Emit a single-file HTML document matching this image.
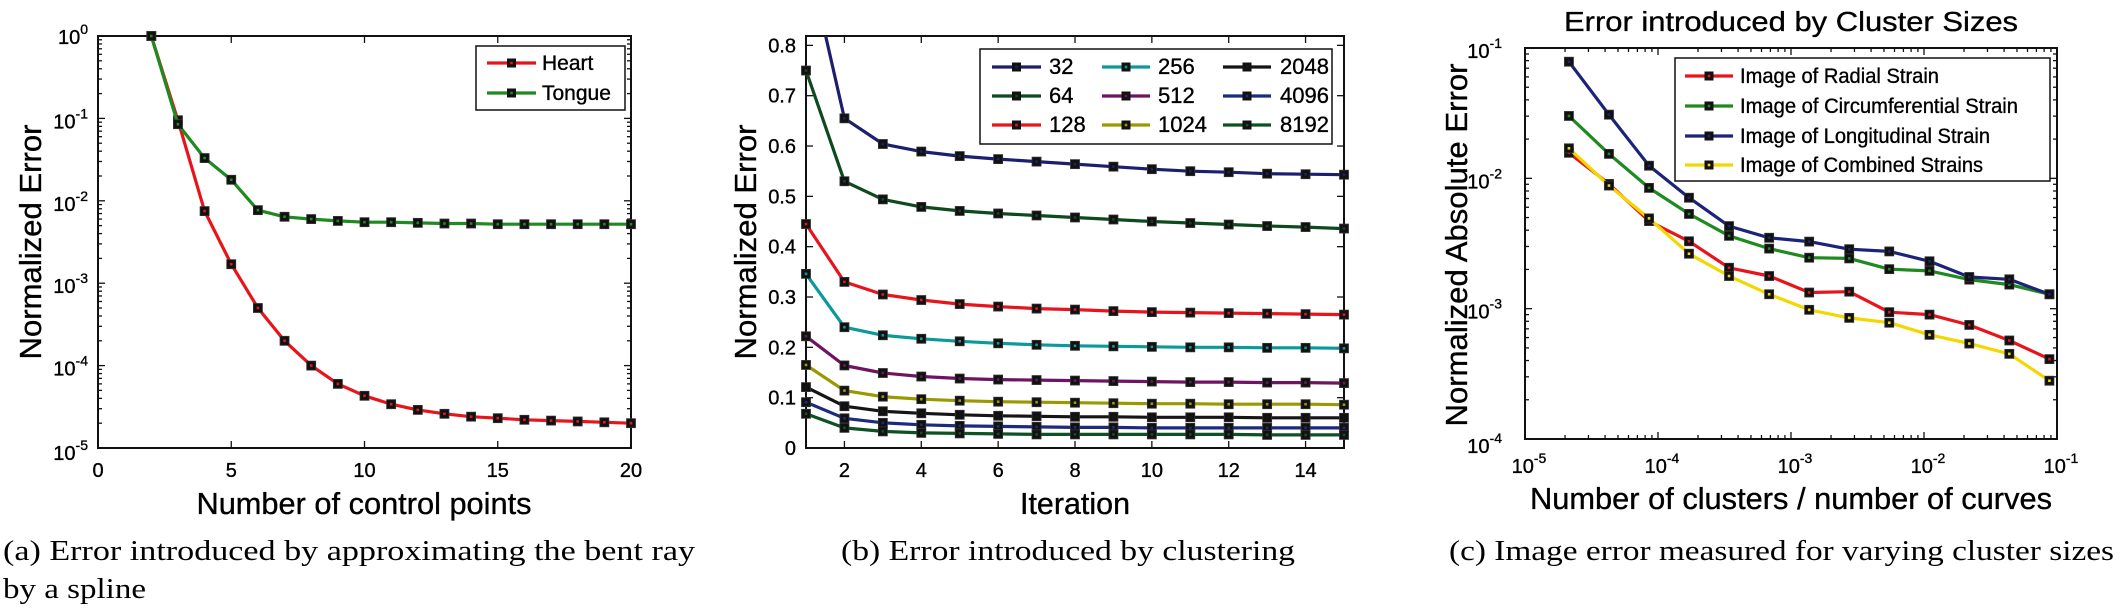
<!DOCTYPE html>
<html><head><meta charset="utf-8">
<style>
html,body{margin:0;padding:0;background:#fff;}
body{width:2126px;height:613px;overflow:hidden;position:relative;}
svg{position:absolute;left:0;top:0;}
text{font-family:"Liberation Sans",Arial,sans-serif;fill:#000;stroke:#000;stroke-width:0.35;}
.cap{font-family:"Liberation Serif","Times New Roman",serif;font-size:29px;stroke-width:0;}
</style></head>
<body>
<svg id="fig" width="2126" height="613" viewBox="0 0 2126 613"></svg>
<script>
// ---------- Panel (a) data ----------
const aControlPoints = [2,3,4,5,6,7,8,9,10,11,12,13,14,15,16,17,18,19,20];
const aHeart = [1,0.095,0.0075,0.0017,0.0005,0.0002,0.0001,0.00006,0.000043,0.000034,0.000029,0.000026,0.000024,0.000023,0.000022,0.0000215,0.000021,0.0000205,0.00002];
const aTongue = [1,0.085,0.033,0.018,0.0077,0.0064,0.006,0.0057,0.0055,0.0055,0.0054,0.0053,0.0053,0.0052,0.0052,0.0052,0.0052,0.0052,0.0052];
const aXTicks = [0,5,10,15,20];
const aYTickExps = [0,-1,-2,-3,-4,-5];
// ---------- Panel (b) data ----------
const bIterations = [1,2,3,4,5,6,7,8,9,10,11,12,13,14,15];
const bNames = ["32","64","128","256","512","1024","2048","4096","8192"];
const b32 = [0.99,0.655,0.604,0.589,0.580,0.574,0.569,0.564,0.559,0.554,0.550,0.548,0.545,0.544,0.543];
const b64 = [0.75,0.53,0.494,0.479,0.471,0.466,0.462,0.458,0.454,0.450,0.447,0.444,0.441,0.439,0.436];
const b128 = [0.445,0.33,0.305,0.294,0.286,0.281,0.277,0.275,0.272,0.270,0.269,0.268,0.267,0.266,0.265];
const b256 = [0.346,0.240,0.224,0.217,0.212,0.208,0.205,0.203,0.202,0.201,0.200,0.200,0.199,0.199,0.198];
const b512 = [0.222,0.164,0.149,0.142,0.138,0.136,0.135,0.134,0.133,0.132,0.131,0.131,0.130,0.130,0.129];
const b1024 = [0.165,0.114,0.102,0.097,0.094,0.092,0.091,0.090,0.089,0.088,0.088,0.087,0.087,0.087,0.086];
const b2048 = [0.121,0.083,0.073,0.069,0.066,0.064,0.063,0.062,0.062,0.061,0.061,0.061,0.060,0.060,0.060];
const b4096 = [0.091,0.059,0.050,0.046,0.044,0.043,0.042,0.041,0.041,0.040,0.040,0.040,0.040,0.040,0.040];
const b8192 = [0.068,0.040,0.033,0.030,0.029,0.028,0.027,0.027,0.027,0.027,0.027,0.027,0.026,0.026,0.026];
const bXTicks = [2,4,6,8,10,12,14];
const bYTicks = [0,0.1,0.2,0.3,0.4,0.5,0.6,0.7,0.8];
// ---------- Panel (c) data ----------
const cRatios = [2.14e-5,4.28e-5,8.56e-5,1.71e-4,3.42e-4,6.85e-4,1.37e-3,2.74e-3,5.48e-3,1.10e-2,2.19e-2,4.38e-2,8.77e-2];
const cRadial = [0.0157,0.00906,0.0047,0.00329,0.00206,0.00178,0.00133,0.00135,0.00094,0.00090,0.00075,0.00057,0.00041];
const cCircum = [0.0301,0.0154,0.00845,0.00533,0.00362,0.00289,0.00246,0.00243,0.00201,0.00195,0.00167,0.00153,0.00129];
const cLongit = [0.0785,0.0308,0.0125,0.0071,0.0043,0.0035,0.00327,0.00286,0.00275,0.00231,0.00175,0.00168,0.00129];
const cCombined = [0.0170,0.0088,0.00493,0.00264,0.00178,0.00129,0.00098,0.00085,0.00078,0.00063,0.00054,0.00045,0.00028];
const cXTickExps = [-5,-4,-3,-2,-1];
const cYTickExps = [-1,-2,-3,-4];

const NS = "http://www.w3.org/2000/svg";
const fig = document.getElementById("fig");
function mk(tag, attrs, parent){
  const e = document.createElementNS(NS, tag);
  for (const k in attrs) e.setAttribute(k, attrs[k]);
  (parent || fig).appendChild(e);
  return e;
}
function lin(d0,d1,r0,r1){ return v => r0 + (v-d0)/(d1-d0)*(r1-r0); }
function logS(e0,e1,r0,r1){ return v => r0 + (Math.log10(v)-e0)/(e1-e0)*(r1-r0); }

function box(g,L,T,R,B){
  const r = mk("rect",{x:L,y:T,width:R-L,height:B-T,fill:"none",stroke:"#111","stroke-width":2},g);
  
  
}
function tickPair(g,x1,y1,x2,y2){
  const t = mk("line",{x1:x1,y1:y1,x2:x2,y2:y2,stroke:"#111","stroke-width":1.3},g);
  
  
}
function label(g,x,y,str,size,anchor,name){
  const t = mk("text",{x:x,y:y,"font-size":size,"text-anchor":anchor||"middle"},g);
  t.textContent = str;
  
  
  return t;
}
function powLabel(g,x,y,exp,anchor,name){
  const t = mk("text",{x:x,y:y,"font-size":20,"text-anchor":anchor},g);
  
  
  const s1 = mk("tspan",{},t); s1.textContent = "10";
  const s2 = mk("tspan",{dy:-10,"font-size":14}); t.appendChild(s2); s2.textContent = String(exp);
}
function series(g,xs,ys,sx,sy,color,name,clip){
  const sg = mk("g",{},g);
  
  
  if (clip) sg.setAttribute("clip-path",clip);
  const pts = xs.map((x,i)=>sx(x).toFixed(1)+","+sy(ys[i]).toFixed(1)).join(" ");
  const pl = mk("polyline",{points:pts,fill:"none",stroke:color,"stroke-width":3.2,"stroke-linejoin":"round"},sg);
  
  
  xs.forEach((x,i)=>{
    const px = sx(x), py = sy(ys[i]);
    const m = mk("rect",{x:px-4.5,y:py-4.5,width:9,height:9,fill:"#111",stroke:"#333","stroke-width":0.8},sg);
    
    
    const c = mk("rect",{x:px-1.3,y:py-1.3,width:2.6,height:2.6,fill:color},sg);
    
    
  });
}
function legendEntry(g,x1,x2,y,tx,color,str,size,tlen){
  const lg = mk("g",{},g);
  
  
  const l = mk("line",{x1:x1,y1:y,x2:x2,y2:y,stroke:color,"stroke-width":3.2},lg);
  
  
  const cx=(x1+x2)/2;
  const m = mk("rect",{x:cx-4.5,y:y-4.5,width:9,height:9,fill:"#111"},lg);
  
  
  const c = mk("rect",{x:cx-1.3,y:y-1.3,width:2.6,height:2.6,fill:color},lg);
  
  
  const t = label(lg,tx,y+7,str,size,"start",'legend-label');
  if (tlen) { t.setAttribute("textLength",tlen); t.setAttribute("lengthAdjust","spacingAndGlyphs"); }
}
const defs = mk("defs",{});
function clipRect(id,L,T,R,B){ const cp = mk("clipPath",{id:id},defs); mk("rect",{x:L,y:T,width:R-L,height:B-T},cp); }
function fitText(t,len){ t.setAttribute("textLength",len); t.setAttribute("lengthAdjust","spacingAndGlyphs"); }

// ===================== Panel (a) =====================
(function(){
  const L=98,T=36,R=631,B=448;
  const g = mk("g",{});
  
  
  const sx = lin(0,20,L,R), sy = logS(0,-5,T,B);
  clipRect("clipA",L,T-6,R+6,B);
  box(g,L,T,R,B);
  aXTicks.forEach(v=>{ const x=sx(v); tickPair(g,x,B,x,B-7); tickPair(g,x,T,x,T+7);
    label(g,x,477,String(v),20,"middle",'x-tick-label'); });
  aYTickExps.forEach(e=>{ const y=sy(Math.pow(10,e)); tickPair(g,L,y,L+7,y); tickPair(g,R,y,R-7,y);
    powLabel(g,88,y+(e===-5?12:(e===0?8:10)),e,"end",'y-tick-label');
    if (e>-5) for(let k=2;k<10;k++){ const yy=sy(k*Math.pow(10,e-1)); tickPair(g,L,yy,L+4,yy); tickPair(g,R,yy,R-4,yy); }
  });
  series(g,aControlPoints,aHeart,sx,sy,"#e8141c",'series-heart',"url(#clipA)");
  series(g,aControlPoints,aTongue,sx,sy,"#1f8a1f",'series-tongue',"url(#clipA)");
  const lg = mk("g",{},g);
  
  
  const lb = mk("rect",{x:476,y:46,width:149,height:64,fill:"#fff",stroke:"#111","stroke-width":1.5},lg);
  
  
  legendEntry(lg,487,536,63,542,"#e8141c","Heart",21);
  legendEntry(lg,487,536,93,542,"#1f8a1f","Tongue",21);
  const xt = label(g,364,514,"Number of control points",31,"middle",'x-axis-title');
  fitText(xt,335);
  const yt = label(g,0,0,"Normalized Error",31,"middle",'y-axis-title');
  yt.setAttribute("transform","translate(41,242) rotate(-90)");
  fitText(yt,235);
})();

// ===================== Panel (b) =====================
(function(){
  const L=806,T=36,R=1344,B=448;
  const g = mk("g",{});
  
  
  const sx = lin(1,15,L,R), sy = lin(0,0.8186,B,T);
  clipRect("clipB",L-6,T,R+6,B+6);
  box(g,L,T,R,B);
  bXTicks.forEach(v=>{ const x=sx(v); tickPair(g,x,B,x,B-7); tickPair(g,x,T,x,T+7);
    label(g,x,477,String(v),20,"middle",'x-tick-label'); });
  bYTicks.forEach(v=>{ const y=sy(v); tickPair(g,L,y,L+7,y); tickPair(g,R,y,R-7,y);
    label(g,796,y+7,v===0?"0":v.toFixed(1),20,"end",'y-tick-label'); });
  const data=[b32,b64,b128,b256,b512,b1024,b2048,b4096,b8192];
  const cols=["#1b1f6e","#0d4a1e","#e8141c","#0a9a9a","#6e1462","#9a9a00","#151515","#1c2a80","#0c5222"];
  data.forEach((d,i)=>series(g,bIterations,d,sx,sy,cols[i],'series-'+bNames[i],"url(#clipB)"));
  const lg = mk("g",{},g);
  
  
  const lb = mk("rect",{x:980,y:49,width:352,height:95,fill:"#fff",stroke:"#111","stroke-width":1.5},lg);
  
  
  const colX=[[992,1041,1049],[1102,1150,1158],[1223,1271,1280]];
  const rowY=[67,96,125];
  bNames.forEach((n,i)=>{ const c=colX[Math.floor(i/3)], y=rowY[i%3];
    legendEntry(lg,c[0],c[1],y,c[2],cols[i],n,22); });
  const xt = label(g,1075,514,"Iteration",31,"middle",'x-axis-title');
  fitText(xt,110);
  const yt = label(g,0,0,"Normalized Error",31,"middle",'y-axis-title');
  yt.setAttribute("transform","translate(756,242) rotate(-90)");
  fitText(yt,235);
})();

// ===================== Panel (c) =====================
(function(){
  const L=1525,T=48,R=2057,B=439;
  const g = mk("g",{});
  
  
  const sx = logS(-5,-1,L,R), sy = logS(-1,-4,T,B);
  box(g,L,T,R,B);
  cXTickExps.forEach(e=>{ const x=sx(Math.pow(10,e)); tickPair(g,x,B,x,B-7); tickPair(g,x,T,x,T+7);
    powLabel(g,x+4,473,e,"middle",'x-tick-label');
    if (e<-1) for(let k=2;k<10;k++){ const xx=sx(k*Math.pow(10,e)); tickPair(g,xx,B,xx,B-4); tickPair(g,xx,T,xx,T+4); }
  });
  cYTickExps.forEach(e=>{ const y=sy(Math.pow(10,e)); tickPair(g,L,y,L+7,y); tickPair(g,R,y,R-7,y);
    powLabel(g,1502,y+(e===-4?14:10),e,"end",'y-tick-label');
    if (e>-4) for(let k=2;k<10;k++){ const yy=sy(k*Math.pow(10,e-1)); tickPair(g,L,yy,L+4,yy); tickPair(g,R,yy,R-4,yy); }
  });
  series(g,cRatios,cRadial,sx,sy,"#e8141c",'series-radial');
  series(g,cRatios,cCircum,sx,sy,"#1f8a1f",'series-circumferential');
  series(g,cRatios,cLongit,sx,sy,"#1b237a",'series-longitudinal');
  series(g,cRatios,cCombined,sx,sy,"#f2d800",'series-combined');
  const lg = mk("g",{},g);
  
  
  const lb = mk("rect",{x:1675,y:58,width:375,height:123,fill:"#fff",stroke:"#111","stroke-width":1.5},lg);
  
  
  legendEntry(lg,1685,1733,76,1740,"#e8141c","Image of Radial Strain",21,199);
  legendEntry(lg,1685,1733,106,1740,"#1f8a1f","Image of Circumferential Strain",21,278);
  legendEntry(lg,1685,1733,136,1740,"#1b237a","Image of Longitudinal Strain",21,250);
  legendEntry(lg,1685,1733,165,1740,"#f2d800","Image of Combined Strains",21,243);
  const tt = label(g,1791,31,"Error introduced by Cluster Sizes",28,"middle",'chart-title');
  fitText(tt,454);
  const xt = label(g,1791,509,"Number of clusters / number of curves",31,"middle",'x-axis-title');
  fitText(xt,522);
  const yt = label(g,0,0,"Normalized Absolute Error",31,"middle",'y-axis-title');
  yt.setAttribute("transform","translate(1467,245) rotate(-90)");
  fitText(yt,363);
})();
</script>
<svg width="2126" height="613" style="pointer-events:none">
  <text class="cap" x="3" y="560" textLength="692" lengthAdjust="spacingAndGlyphs">(a)  Error introduced by approximating the bent ray</text>
  <text class="cap" x="3" y="598" textLength="143" lengthAdjust="spacingAndGlyphs">by a spline</text>
  <text class="cap" x="841" y="560" textLength="454" lengthAdjust="spacingAndGlyphs">(b)  Error introduced by clustering</text>
  <text class="cap" x="1449" y="560" textLength="665" lengthAdjust="spacingAndGlyphs">(c)  Image error measured for varying cluster sizes</text>
</svg>
</body></html>
